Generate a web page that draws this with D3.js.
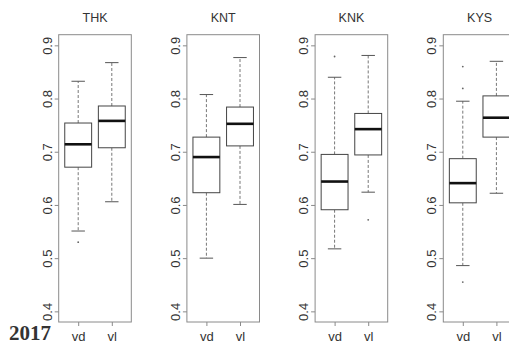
<!DOCTYPE html>
<html>
<head>
<meta charset="utf-8">
<script src="https://cdn.jsdelivr.net/npm/d3@7"></script>
<style>
  body { margin: 0; background: #fff; }
  text { font-family: "Liberation Sans", Arial, sans-serif; fill: #333; }
</style>
</head>
<body>
<svg id="chart" width="509" height="344"></svg>
<script>
// panels and groups
const panels = ["THK", "KNT", "KNK", "KYS"];
const groups = ["vd", "vl"];
const yTicks = [0.4, 0.5, 0.6, 0.7, 0.8, 0.9];

// box stats, one [vd, vl] pair per panel
const whiskLo = [[0.551, 0.606], [0.500, 0.601], [0.5175, 0.624], [0.486, 0.622]];
const q1      = [[0.671, 0.7075], [0.623, 0.711], [0.591, 0.694], [0.604, 0.7275]];
const med     = [[0.714, 0.758], [0.690, 0.7525], [0.644, 0.7425], [0.641, 0.764]];
const q3      = [[0.754, 0.786], [0.7275, 0.784], [0.695, 0.772], [0.687, 0.805]];
const whiskHi = [[0.8325, 0.8675], [0.8075, 0.877], [0.840, 0.881], [0.795, 0.870]];
const outliers = [[[0.530], []], [[], []], [[0.879], [0.572]], [[0.860, 0.819, 0.455], []]];

const svg = d3.select("#chart");

const plotTop = 34.7, plotBottom = 322;
const panelW = 72.6, firstLeft = 58.7, step = 128.2;

const y = d3.scaleLinear().domain([0.38, 0.92]).range([plotBottom, plotTop]);

panels.forEach((name, i) => {
  const left = firstLeft + i * step;
  const x = d3.scaleLinear().domain([0.42, 2.58]).range([left, left + panelW]);
  const g = svg.append("g");

  // frame
  g.append("rect")
    .attr("x", left).attr("y", plotTop)
    .attr("width", panelW).attr("height", plotBottom - plotTop)
    .attr("fill", "none").attr("stroke", "#8a8a8a").attr("stroke-width", 1);

  // title
  g.append("text")
    .attr("x", x(1.5)).attr("y", 22)
    .attr("text-anchor", "middle")
    .style("font-size", "12.5px")
    .text(name);

  // y axis
  const yAxis = d3.axisLeft(y).tickValues(yTicks).tickSize(4).tickPadding(3)
    .tickFormat(d3.format(".1f"));
  const ya = g.append("g").attr("transform", `translate(${left},0)`).call(yAxis);
  ya.select(".domain").remove();
  ya.selectAll("line").attr("stroke", "#8a8a8a");
  ya.selectAll("text")
    .attr("x", 0).attr("dy", 0)
    .attr("transform", "translate(-7,0) rotate(-90)")
    .attr("text-anchor", "middle")
    .style("font-size", "13px")
    .style("font-family", "'Liberation Sans', Arial, sans-serif")
    .attr("fill", "#444");

  // x axis
  const xAxis = d3.axisBottom(x).tickValues([1, 2]).tickSize(4).tickPadding(6)
    .tickFormat((d) => groups[d - 1]);
  const xa = g.append("g").attr("transform", `translate(0,${plotBottom})`).call(xAxis);
  xa.select(".domain").remove();
  xa.selectAll("line").attr("stroke", "#8a8a8a");
  xa.selectAll("text")
    .style("font-size", "13px")
    .style("font-family", "'Liberation Sans', Arial, sans-serif")
    .attr("fill", "#444");

  // boxes
  groups.forEach((grp, j) => {
    const cx = x(j + 1);
    const halfBox = (x(1.4) - x(1));
    const halfCap = halfBox / 2;

    // whiskers
    g.append("line")
      .attr("x1", cx).attr("x2", cx)
      .attr("y1", y(q3[i][j])).attr("y2", y(whiskHi[i][j]))
      .attr("stroke", "#777").attr("stroke-dasharray", "3,2");
    g.append("line")
      .attr("x1", cx).attr("x2", cx)
      .attr("y1", y(q1[i][j])).attr("y2", y(whiskLo[i][j]))
      .attr("stroke", "#777").attr("stroke-dasharray", "3,2");
    [whiskHi[i][j], whiskLo[i][j]].forEach((v) => {
      g.append("line")
        .attr("x1", cx - halfCap).attr("x2", cx + halfCap)
        .attr("y1", y(v)).attr("y2", y(v))
        .attr("stroke", "#555");
    });

    // box
    g.append("rect")
      .attr("x", cx - halfBox).attr("y", y(q3[i][j]))
      .attr("width", halfBox * 2).attr("height", y(q1[i][j]) - y(q3[i][j]))
      .attr("fill", "#fff").attr("stroke", "#444");

    // median
    g.append("line")
      .attr("x1", cx - halfBox).attr("x2", cx + halfBox)
      .attr("y1", y(med[i][j])).attr("y2", y(med[i][j]))
      .attr("stroke", "#111").attr("stroke-width", 2.6);

    // outliers
    g.selectAll(null)
      .data(outliers[i][j])
      .join("circle")
      .attr("cx", cx).attr("cy", (d) => y(d))
      .attr("r", 0.9).attr("fill", "#666");
  });
});

svg.append("text")
  .attr("x", 9).attr("y", 340)
  .style("font-family", "'Liberation Serif', 'Times New Roman', serif")
  .style("font-weight", "bold")
  .style("font-size", "21px")
  .attr("fill", "#111")
  .text("2017");
</script>
</body>
</html>
